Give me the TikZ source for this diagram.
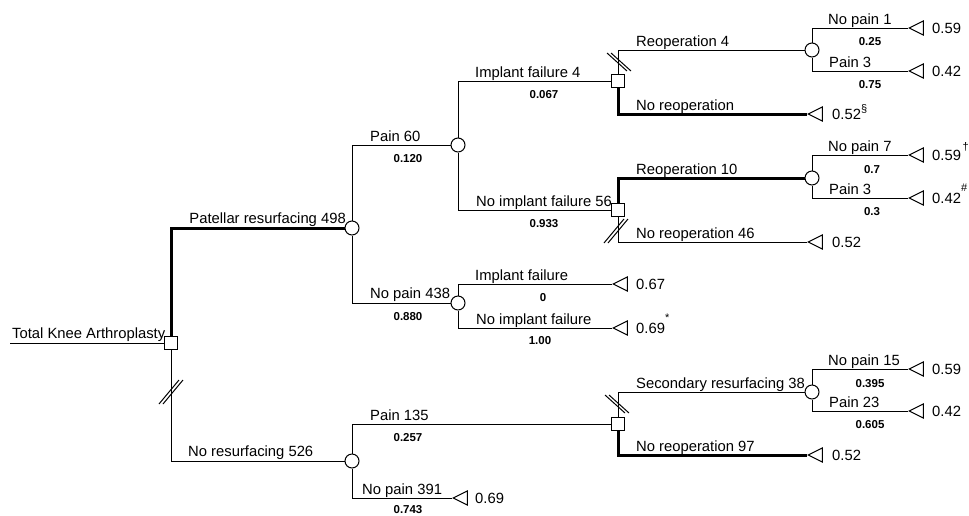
\documentclass[tikz,border=0pt]{standalone}
\usepackage{fontspec}
\setmainfont{Liberation Sans}
\usetikzlibrary{shapes.geometric}
\newcommand{\supmark}[2]{\raisebox{#1}{\fontsize{11}{11}\selectfont #2}}
\begin{document}
\begin{tikzpicture}[x=1pt,y=-1pt,
  edge/.style={line width=1pt},
  thickedge/.style={line width=3pt},
  chance/.style={circle,draw,line width=1pt,fill=white,minimum size=14pt,inner sep=0pt},
  decision/.style={rectangle,draw,line width=1pt,fill=white,minimum size=13pt,inner sep=0pt},
  term/.style={isosceles triangle,shape border rotate=180,isosceles triangle stretches,draw,line width=1pt,minimum width=14pt,minimum height=14pt,inner sep=0pt,anchor=apex},
  lab/.style={font=\fontsize{14.8}{16}\selectfont,anchor=base west,inner sep=0pt},
  labr/.style={font=\fontsize{14.8}{16}\selectfont,anchor=base east,inner sep=0pt},
  prob/.style={font=\fontsize{11.5}{13}\selectfont\bfseries,anchor=base,inner sep=0pt},
  val/.style={font=\fontsize{14.8}{16}\selectfont,anchor=base west,inner sep=0pt},
  hashup/.pic={\draw[line width=1pt] (-12,12)--(8,-12) (-8,12)--(12,-12);},
  hashdown/.pic={\draw[line width=1pt] (-12,-9)--(8,9) (-8,-9)--(12,9);}
]
\useasboundingbox (0,0) rectangle (969,515);
% decision and chance nodes
\coordinate (start) at (10,343);
\node[decision] (D0) at (171,343) {};
\node[chance] (C1) at (352,228) {};
\node[chance] (C2) at (352,461) {};
\node[chance] (C3) at (458,145) {};
\node[chance] (C4) at (458,303) {};
\node[decision] (D1) at (618,81) {};
\node[decision] (D2) at (618,210) {};
\node[decision] (D3) at (618,424) {};
\node[chance] (C5) at (812,50) {};
\node[chance] (C6) at (812,178) {};
\node[chance] (C7) at (812,392) {};
% terminals
\node[term] (T1) at (908,28) {};
\node[term] (T2) at (908,71) {};
\node[term] (T3) at (807,114) {};
\node[term] (T4) at (908,155) {};
\node[term] (T5) at (908,198) {};
\node[term] (T6) at (807,242) {};
\node[term] (T7) at (612,284) {};
\node[term] (T8) at (612,328) {};
\node[term] (T9) at (452,498) {};
\node[term] (T10) at (908,369) {};
\node[term] (T11) at (908,411) {};
\node[term] (T12) at (807,455) {};
% connectors
\draw[edge] (start) -- (D0.west);
\draw[thickedge] (D0.north) |- (C1.west);
\draw[edge] (D0.south) |- (C2.west);
\draw[edge] (C1.north) |- (C3.west);
\draw[edge] (C1.south) |- (C4.west);
\draw[edge] (C3.north) |- (D1.west);
\draw[edge] (C3.south) |- (D2.west);
\draw[edge] (D1.north) |- (C5.west);
\draw[thickedge] (D1.south) |- (T3.apex);
\draw[edge] (C5.north) |- (T1.apex);
\draw[edge] (C5.south) |- (T2.apex);
\draw[thickedge] (D2.north) |- (C6.west);
\draw[edge] (D2.south) |- (T6.apex);
\draw[edge] (C6.north) |- (T4.apex);
\draw[edge] (C6.south) |- (T5.apex);
\draw[edge] (C4.north) |- (T7.apex);
\draw[edge] (C4.south) |- (T8.apex);
\draw[edge] (C2.north) |- (D3.west);
\draw[edge] (C2.south) |- (T9.apex);
\draw[edge] (D3.north) |- (C7.west);
\draw[thickedge] (D3.south) |- (T12.apex);
\draw[edge] (C7.north) |- (T10.apex);
\draw[edge] (C7.south) |- (T11.apex);
% hash marks
\pic at (171,392) {hashup};
\pic at (619,62) {hashdown};
\pic at (616,231) {hashup};
\pic at (617,404) {hashdown};
% branch labels
\node[lab] (l0) at (12,338) {Total Knee Arthroplasty};
\node[labr] (l1) at (346,223) {Patellar resurfacing 498};
\node[lab] (l2) at (188,456) {No resurfacing 526};
\node[lab] (l3) at (370,141) {Pain 60};
\node[prob] (p3) at (408,162) {0.120};
\node[lab] (l4) at (370,298) {No pain 438};
\node[prob] (p4) at (408,320) {0.880};
\node[lab] (l5) at (475,77) {Implant failure 4};
\node[prob] (p5) at (544,98) {0.067};
\node[lab] (l6) at (476,206) {No implant failure 56};
\node[prob] (p6) at (544,227) {0.933};
\node[lab] (l7) at (636,46) {Reoperation 4};
\node[lab] (l8) at (636,110) {No reoperation};
\node[lab] (l9) at (828,24) {No pain 1};
\node[prob] (p9) at (870,45) {0.25};
\node[lab] (l10) at (829,67) {Pain 3};
\node[prob] (p10) at (870,88) {0.75};
\node[lab] (l11) at (636,174) {Reoperation 10};
\node[lab] (l12) at (636,238) {No reoperation 46};
\node[lab] (l13) at (828,151) {No pain 7};
\node[prob] (p13) at (872,173) {0.7};
\node[lab] (l14) at (829,194) {Pain 3};
\node[prob] (p14) at (872,215) {0.3};
\node[lab] (l15) at (475,280) {Implant failure};
\node[prob] (p15) at (543,301) {0};
\node[lab] (l16) at (476,324) {No implant failure};
\node[prob] (p16) at (540,344) {1.00};
\node[lab] (l17) at (370,420) {Pain 135};
\node[prob] (p17) at (408,441) {0.257};
\node[lab] (l18) at (362,494) {No pain 391};
\node[prob] (p18) at (408,513) {0.743};
\node[lab] (l19) at (636,388) {Secondary resurfacing 38};
\node[lab] (l20) at (636,451) {No reoperation 97};
\node[lab] (l21) at (828,365) {No pain 15};
\node[prob] (p21) at (870,387) {0.395};
\node[lab] (l22) at (829,407) {Pain 23};
\node[prob] (p22) at (870,428) {0.605};
% terminal values
\node[val] (v1) at ([shift={(24,5)}]T1.apex) {0.59};
\node[val] (v2) at ([shift={(24,5)}]T2.apex) {0.42};
\node[val] (v3) at ([shift={(25,5)}]T3.apex) {0.52\supmark{7pt}{§}};
\node[val] (v4) at ([shift={(24,5)}]T4.apex) {0.59\hspace{1.5pt}\supmark{10pt}{†}};
\node[val] (v5) at ([shift={(24,5)}]T5.apex) {0.42\supmark{12pt}{\#}};
\node[val] (v6) at ([shift={(25,5)}]T6.apex) {0.52};
\node[val] (v7) at ([shift={(24,5)}]T7.apex) {0.67};
\node[val] (v8) at ([shift={(24,5)}]T8.apex) {0.69\supmark{12pt}{*}};
\node[val] (v9) at ([shift={(23,5)}]T9.apex) {0.69};
\node[val] (v10) at ([shift={(24,5)}]T10.apex) {0.59};
\node[val] (v11) at ([shift={(24,5)}]T11.apex) {0.42};
\node[val] (v12) at ([shift={(25,5)}]T12.apex) {0.52};
\end{tikzpicture}
\end{document}
